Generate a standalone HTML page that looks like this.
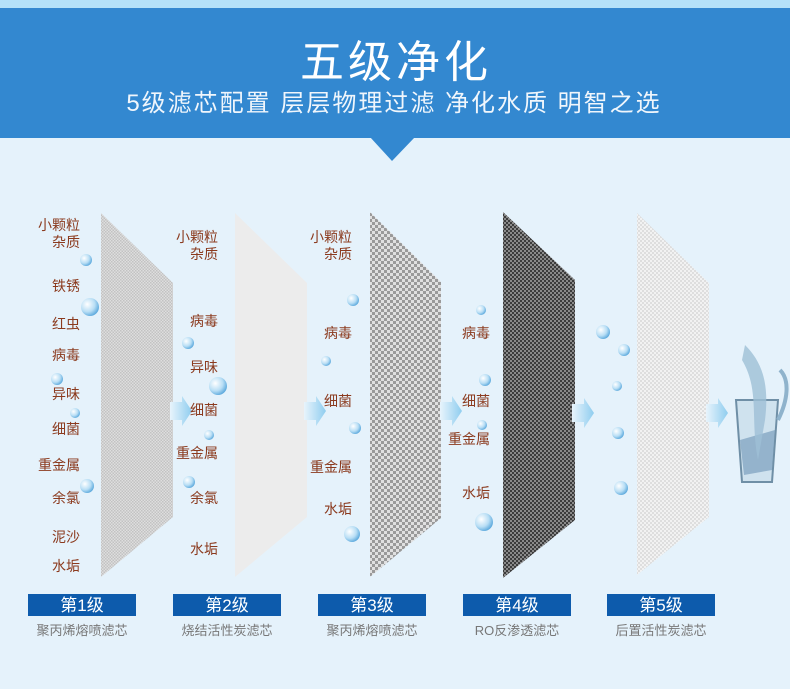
<!DOCTYPE html>
<html><head><meta charset="utf-8"><style>
html,body{margin:0;padding:0;}
body{width:790px;height:684px;overflow:hidden;background:#e5f2fb;font-family:"Liberation Sans","Noto Sans CJK SC",sans-serif;}
svg text{font-family:"Liberation Sans","Noto Sans CJK SC",sans-serif;}
</style></head><body>
<svg width="790" height="684" viewBox="0 0 790 684" xmlns="http://www.w3.org/2000/svg">
<defs>
<pattern id="p1" width="3" height="3" patternUnits="userSpaceOnUse"><rect width="3" height="3" fill="#dedede"/><rect width="1.5" height="1.5" fill="#c2c2c2"/><rect x="1.5" y="1.5" width="1.5" height="1.5" fill="#c2c2c2"/></pattern>
<pattern id="p3" width="6" height="6" patternUnits="userSpaceOnUse"><rect width="6" height="6" fill="#e0e0e0"/><rect width="3" height="3" fill="#9a9a9a"/><rect x="3" y="3" width="3" height="3" fill="#9a9a9a"/></pattern>
<pattern id="p4" width="4" height="4" patternUnits="userSpaceOnUse"><rect width="4" height="4" fill="#8a8a8a"/><rect width="2" height="2" fill="#3c3c3c"/><rect x="2" y="2" width="2" height="2" fill="#3c3c3c"/></pattern>
<pattern id="p5" width="4" height="4" patternUnits="userSpaceOnUse"><rect width="4" height="4" fill="#f2f2f2"/><rect width="2" height="2" fill="#dedede"/><rect x="2" y="2" width="2" height="2" fill="#dedede"/></pattern>
<linearGradient id="ar" x1="0" x2="1"><stop offset="0" stop-color="#e8f4fc"/><stop offset="1" stop-color="#8fcdef"/></linearGradient>
<radialGradient id="bb" cx="0.35" cy="0.35" r="0.7"><stop offset="0" stop-color="#ffffff"/><stop offset="0.6" stop-color="#b8def5"/><stop offset="1" stop-color="#5aa8dc"/></radialGradient>
</defs>
<rect x="0" y="0" width="790" height="8" fill="#b4e1f9"/>
<rect x="0" y="8" width="790" height="130" fill="#3388d0"/>
<polygon points="370,137 415,137 392,161" fill="#3388d0"/>
<text x="396" y="77" font-size="44" fill="#fff" text-anchor="middle" letter-spacing="4">五级净化</text>
<text x="394" y="111" font-size="24" fill="#f0f6fc" text-anchor="middle" letter-spacing="2">5级滤芯配置  层层物理过滤  净化水质  明智之选</text>

<polygon points="101,213 173,283 173,517 101,577" fill="url(#p1)"/>
<polygon points="235,213 307,283 307,517 235,577" fill="#ececec"/>
<polygon points="370,212 441,282 441,518 370,577" fill="url(#p3)"/>
<polygon points="503,212 575,280 575,520 503,578" fill="url(#p4)"/>
<polygon points="637,213 709,283 709,517 637,575" fill="url(#p5)"/>

<g fill="url(#ar)">
<polygon points="170,402 182,402 182,396 192,411 182,426 182,420 170,420"/>
<polygon points="304,402 316,402 316,396 326,411 316,426 316,420 304,420"/>
<polygon points="440,402 452,402 452,396 462,411 452,426 452,420 440,420"/>
<polygon points="572,404 584,404 584,398 594,413 584,428 584,422 572,422"/>
<polygon points="706,404 718,404 718,398 728,413 718,428 718,422 706,422"/>
</g>

<g fill="url(#bb)">
<circle cx="86" cy="260" r="6"/><circle cx="90" cy="307" r="9"/><circle cx="57" cy="379" r="6"/><circle cx="75" cy="413" r="5"/><circle cx="87" cy="486" r="7"/>
<circle cx="188" cy="343" r="6"/><circle cx="218" cy="386" r="9"/><circle cx="209" cy="435" r="5"/><circle cx="189" cy="482" r="6"/>
<circle cx="353" cy="300" r="6"/><circle cx="326" cy="361" r="5"/><circle cx="355" cy="428" r="6"/><circle cx="352" cy="534" r="8"/>
<circle cx="481" cy="310" r="5"/><circle cx="485" cy="380" r="6"/><circle cx="482" cy="425" r="5"/><circle cx="484" cy="522" r="9"/>
<circle cx="603" cy="332" r="7"/><circle cx="624" cy="350" r="6"/><circle cx="617" cy="386" r="5"/><circle cx="618" cy="433" r="6"/><circle cx="621" cy="488" r="7"/>
</g>

<g>
<path d="M736,400 L778,400 L772,482 L742,482 Z" fill="#cfe2ee" stroke="#6f8fa6" stroke-width="2"/>
<path d="M740,440 L775,430 L772,470 L744,475 Z" fill="#6c94b5" opacity="0.6"/>
<path d="M745,345 C760,360 770,380 765,420 L758,460 C750,420 760,390 742,360 Z" fill="#9dbfd6" opacity="0.8"/>
<path d="M780,370 C790,380 788,400 778,420" stroke="#8fb3cc" stroke-width="4" fill="none"/>
</g>

<g font-size="14" fill="#8b3a1e" text-anchor="end">
<text x="80" y="230">小颗粒</text><text x="80" y="247">杂质</text><text x="80" y="291">铁锈</text><text x="80" y="329">红虫</text><text x="80" y="360">病毒</text><text x="80" y="399">异味</text><text x="80" y="434">细菌</text><text x="80" y="470">重金属</text><text x="80" y="503">余氯</text><text x="80" y="542">泥沙</text><text x="80" y="571">水垢</text>
<text x="218" y="242">小颗粒</text><text x="218" y="259">杂质</text><text x="218" y="326">病毒</text><text x="218" y="372">异味</text><text x="218" y="415">细菌</text><text x="218" y="458">重金属</text><text x="218" y="503">余氯</text><text x="218" y="554">水垢</text>
<text x="352" y="242">小颗粒</text><text x="352" y="259">杂质</text><text x="352" y="338">病毒</text><text x="352" y="406">细菌</text><text x="352" y="472">重金属</text><text x="352" y="514">水垢</text>
<text x="490" y="338">病毒</text><text x="490" y="406">细菌</text><text x="490" y="444">重金属</text><text x="490" y="498">水垢</text>
</g>

<g fill="#0d5bac">
<rect x="28" y="594" width="108" height="22"/><rect x="173" y="594" width="108" height="22"/><rect x="318" y="594" width="108" height="22"/><rect x="463" y="594" width="108" height="22"/><rect x="607" y="594" width="108" height="22"/>
</g>
<g font-size="17" fill="#fff" text-anchor="middle">
<text x="82" y="611">第1级</text><text x="227" y="611">第2级</text><text x="372" y="611">第3级</text><text x="517" y="611">第4级</text><text x="661" y="611">第5级</text>
</g>
<g font-size="13" fill="#777" text-anchor="middle">
<text x="82" y="635">聚丙烯熔喷滤芯</text><text x="227" y="635">烧结活性炭滤芯</text><text x="372" y="635">聚丙烯熔喷滤芯</text><text x="517" y="635">RO反渗透滤芯</text><text x="661" y="635">后置活性炭滤芯</text>
</g>
</svg>
</body></html>
